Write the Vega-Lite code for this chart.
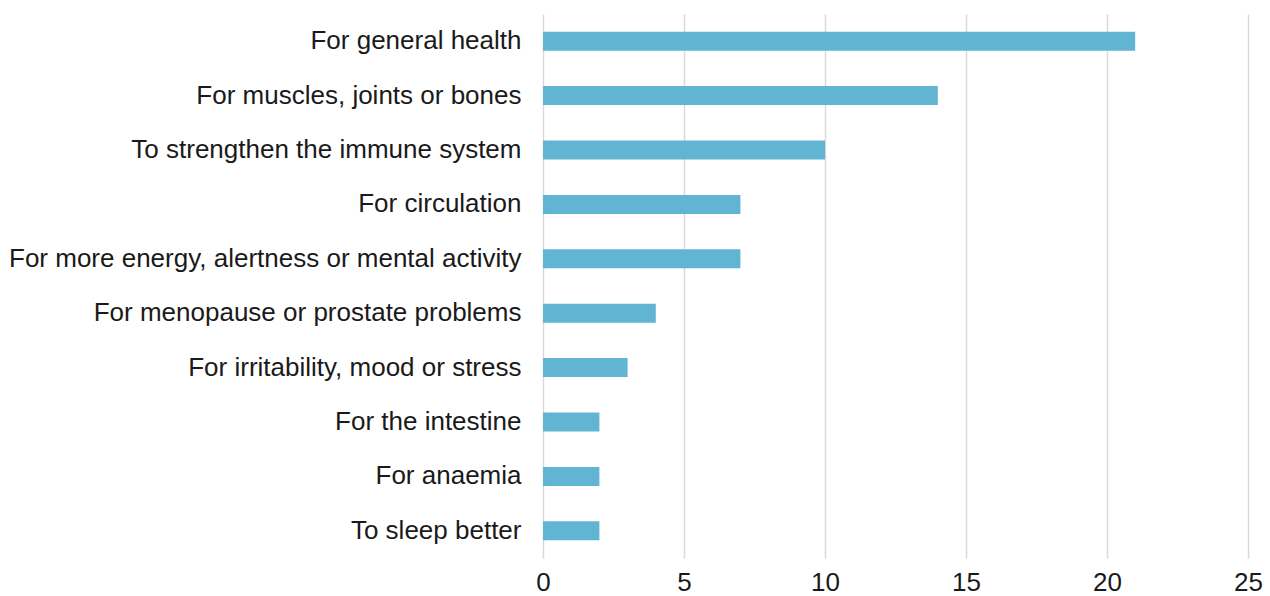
{
  "$schema": "https://vega.github.io/schema/vega-lite/v6.json",
  "width": 705,
  "height": 544,
  "autosize": {"type": "none"},
  "padding": {"left": 543, "top": 14, "right": 22, "bottom": 38},
  "background": "white",
  "config": {"view": {"stroke": null}, "font": "Liberation Sans"},
  "data": {"values": [
    {"reason": "For general health", "value": 21},
    {"reason": "For muscles, joints or bones", "value": 14},
    {"reason": "To strengthen the immune system", "value": 10},
    {"reason": "For circulation", "value": 7},
    {"reason": "For more energy, alertness or mental activity", "value": 7},
    {"reason": "For menopause or prostate problems", "value": 4},
    {"reason": "For irritability, mood or stress", "value": 3},
    {"reason": "For the intestine", "value": 2},
    {"reason": "For anaemia\u2007", "value": 2},
    {"reason": "To sleep better", "value": 2}
  ]},
  "mark": {"type": "bar", "color": "#62b5d2"},
  "encoding": {
    "y": {
      "field": "reason", "type": "nominal", "sort": null, "title": null,
      "scale": {"paddingInner": 0.65, "paddingOuter": 0.325},
      "axis": {"ticks": false, "domain": false, "grid": false, "labelFontSize": 26, "labelColor": "#1a1a1a", "labelPadding": 22, "labelLimit": 600}
    },
    "x": {
      "field": "value", "type": "quantitative", "title": null,
      "scale": {"domain": [0, 25], "nice": false},
      "axis": {"values": [0, 5, 10, 15, 20, 25], "ticks": false, "domain": false, "grid": true, "gridColor": "#d9d9d9", "gridWidth": 1.5, "labelFlush": false, "labelFontSize": 26, "labelColor": "#1a1a1a", "labelPadding": 11}
    }
  }
}
